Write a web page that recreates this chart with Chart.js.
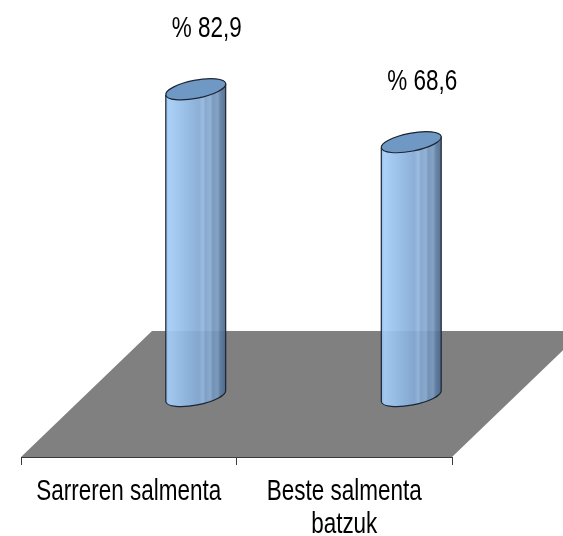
<!DOCTYPE html>
<html>
<head>
<meta charset="utf-8">
<script src="https://cdn.jsdelivr.net/npm/chart.js@4.4.1/dist/chart.umd.min.js"></script>
<style>
  html, body { margin: 0; padding: 0; background: #fff; }
  #wrap { width: 563px; height: 536px; position: relative; }
</style>
</head>
<body>
<div id="wrap"><canvas id="chart-canvas"></canvas></div>
<script>
// data
var categories = ['Sarreren salmenta', ['Beste salmenta', 'batzuk']];
var percentValues = [82.9, 68.6];

// no narrow font installed, so text gets squeezed by hand
var labelFont = '29px "Liberation Sans", Arial, sans-serif';
var squeeze = 0.775;

// 3d look: floor depth and where the cylinders stand on it
var floorDX = 131, floorDY = 126;
var cylDX = 67, cylDY = -61;

function narrowText(c, txt, x, y) {
    c.save();
    c.translate(x, y);
    c.scale(squeeze, 1);
    c.fillText(txt, 0, 0);
    c.restore();
}

var floorPlugin = {
    id: 'floor',
    beforeDraw: function (chart) {
        var a = chart.chartArea, c = chart.ctx;
        c.save();
        c.fillStyle = '#808080';
        c.beginPath();
        c.moveTo(a.left, a.bottom);
        c.lineTo(a.right, a.bottom);
        c.lineTo(a.right + floorDX, a.bottom - floorDY);
        c.lineTo(a.left + floorDX, a.bottom - floorDY);
        c.closePath();
        c.fill();
        c.restore();
    }
};

var cylinderPlugin = {
    id: 'cylinders',
    afterDatasetsDraw: function (chart) {
        var c = chart.ctx;
        var meta = chart.getDatasetMeta(0);
        meta.data.forEach(function (bar, i) {
            var cx = bar.x + cylDX;
            var top = bar.y + cylDY;
            var base = bar.base + cylDY;
            var rx = bar.width / 2, ry = 9, rot = -0.19;
            var ex = Math.cos(rot) * rx, ey = Math.sin(rot) * rx;

            c.save();
            // side of the cylinder
            var g = c.createLinearGradient(cx - rx, 0, cx + rx, 0);
            g.addColorStop(0, '#8db7e6');
            g.addColorStop(0.06, '#a5cdf8');
            g.addColorStop(0.3, '#94bce7');
            g.addColorStop(0.55, '#83a9d4');
            g.addColorStop(0.62, '#94b8de');
            g.addColorStop(0.66, '#7fa3cb');
            g.addColorStop(0.74, '#8badd2');
            g.addColorStop(0.78, '#7193b9');
            g.addColorStop(0.86, '#7a9bc0');
            g.addColorStop(0.9, '#5f80a5');
            g.addColorStop(1, '#4a6384');
            c.globalAlpha = 0.93;
            c.fillStyle = g;
            c.beginPath();
            c.moveTo(cx - ex, top - ey);
            c.lineTo(cx - ex, base - ey);
            c.ellipse(cx, base, rx, ry, rot, Math.PI, 0, true);
            c.lineTo(cx + ex, top + ey);
            c.ellipse(cx, top, rx, ry, rot, 0, Math.PI, false);
            c.closePath();
            c.fill();
            c.globalAlpha = 1;
            c.strokeStyle = '#1b2533';
            c.lineWidth = 1.2;
            c.beginPath();
            c.moveTo(cx - ex, top - ey);
            c.lineTo(cx - ex, base - ey);
            c.ellipse(cx, base, rx, ry, rot, Math.PI, 0, true);
            c.lineTo(cx + ex, top + ey);
            c.stroke();
            // top cap
            c.fillStyle = '#7098c4';
            c.beginPath();
            c.ellipse(cx, top, rx, ry, rot, 0, Math.PI * 2);
            c.fill();
            c.stroke();

            // value label
            var txt = '% ' + percentValues[i].toFixed(1).replace('.', ',');
            c.fillStyle = '#000';
            c.font = labelFont;
            c.textAlign = 'center';
            c.textBaseline = 'alphabetic';
            narrowText(c, txt, cx + 11, top - 52);
            c.restore();
        });
    }
};

// category labels under the axis, drawn at the x scale's tick pixels
var xLabelPlugin = {
    id: 'xlabels',
    afterDraw: function (chart) {
        var c = chart.ctx, xs = chart.scales.x;
        c.save();
        c.fillStyle = '#000';
        c.font = labelFont;
        c.textAlign = 'center';
        c.textBaseline = 'alphabetic';
        chart.data.labels.forEach(function (lab, i) {
            var lines = Array.isArray(lab) ? lab : [lab];
            var x = xs.getPixelForTick(i);
            lines.forEach(function (ln, j) {
                narrowText(c, ln, x, xs.top + 43 + j * 33);
            });
        });
        c.restore();
    }
};

var ctx = document.getElementById('chart-canvas').getContext('2d');

var chart = new Chart(ctx, {
    type: 'bar',
    data: {
        labels: categories,
        datasets: [{
            label: 'Salmentak',
            data: percentValues,
            backgroundColor: 'rgba(0,0,0,0)',
            borderWidth: 0,
            categoryPercentage: 1,
            barPercentage: 0.283
        }]
    },
    options: {
        responsive: true,
        maintainAspectRatio: false,
        animation: false,
        layout: {
            padding: { left: 21, right: 111, top: 87, bottom: 0 }
        },
        plugins: {
            legend: { display: false },
            tooltip: { enabled: false }
        },
        scales: {
            y: {
                display: false,
                min: 0,
                max: 100
            },
            x: {
                afterFit: function (scale) { scale.height = 79; },
                border: { display: true, color: '#3a3a3a', width: 1 },
                grid: {
                    offset: true,
                    drawOnChartArea: false,
                    drawTicks: true,
                    tickLength: 8,
                    color: '#3a3a3a'
                },
                ticks: {
                    display: false,
                    autoSkip: false,
                    maxRotation: 0
                }
            }
        }
    },
    plugins: [floorPlugin, cylinderPlugin, xLabelPlugin]
});
</script>
</body>
</html>
